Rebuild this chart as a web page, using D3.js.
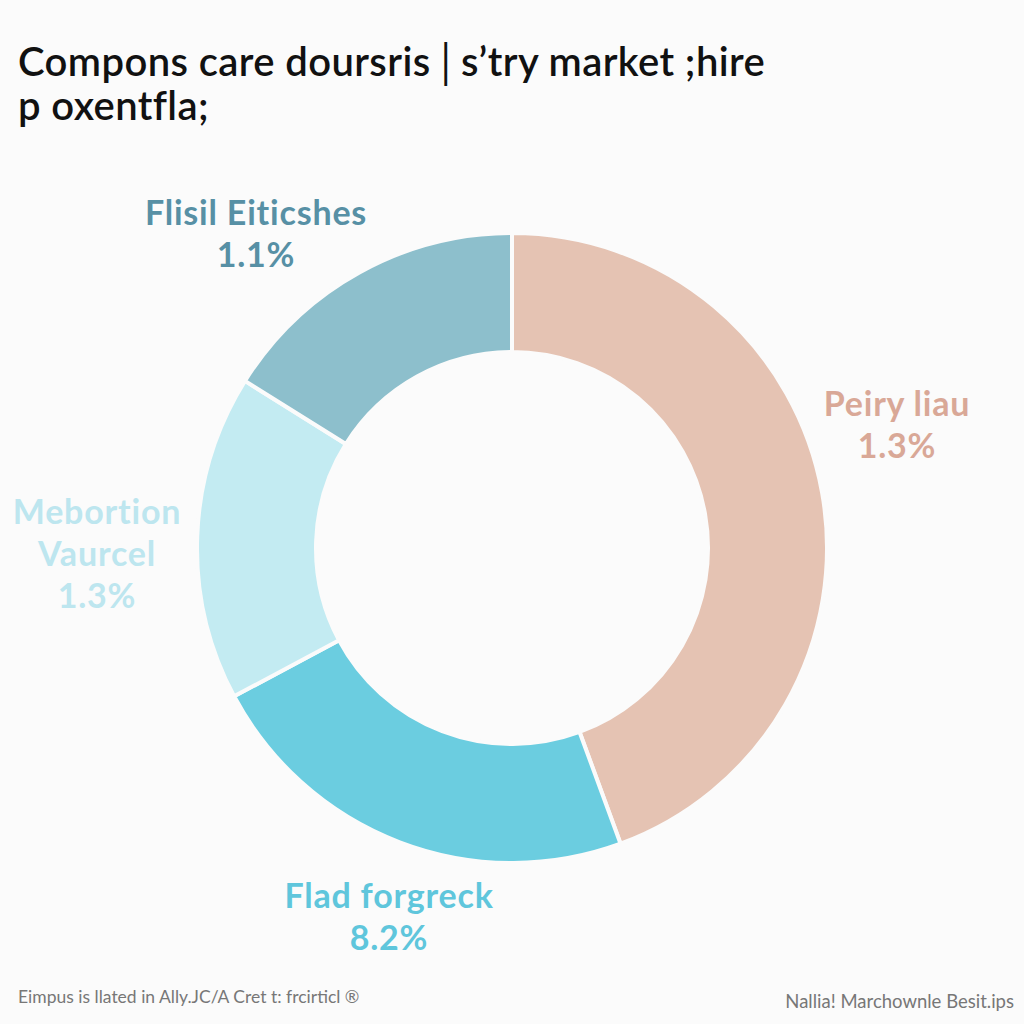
<!DOCTYPE html>
<html>
<head>
<meta charset="utf-8">
<script src="https://cdn.jsdelivr.net/npm/d3@7"></script>
<style>
  html, body { margin: 0; padding: 0; background: #fbfbfb; }
  svg { display: block; }
</style>
</head>
<body>
<svg id="chart" width="1024" height="1024"></svg>
<script>
// ---- data ----
const categories = ["Peiry liau", "Flad forgreck", "Mebortion Vaurcel", "Flisil Eiticshes"];
const sliceShares = [44.4, 22.8, 16.7, 16.1];          // estimated slice sizes
const labelPercents = ["1.3%", "8.2%", "1.3%", "1.1%"]; // printed labels
const sliceColors = ["#e5c3b3", "#6bcde0", "#c3ebf2", "#8dbfcc"];
const labelColors = ["#d9a897", "#5fc6dc", "#bde6ef", "#5790a5"];
const titleLines = ["Compons care doursris\u2502s\u2019try market ;hire", "p oxentfla;"];
const footerLeft = "Eimpus is llated in Ally.JC/A Cret t: frcirticl \u00ae";
const footerRight = "Nallia! Marchownle Besit.ips";

// ---- layout ----
const svg = d3.select("#chart");
const cx = 512, cy = 548, rOuter = 315, rInner = 196;

svg.append("rect").attr("width", 1024).attr("height", 1024).attr("fill", "#fbfbfb");

// title
const title = svg.append("text")
  .attr("font-family", "Lato, 'Open Sans', sans-serif")
  .attr("font-weight", 600)
  .attr("font-size", 40)
  .attr("letter-spacing", 0.4)
  .attr("fill", "#111");
titleLines.forEach((t, i) => {
  title.append("tspan").attr("x", 18).attr("y", 76 + i * 44).text(t);
});

// donut
const pie = d3.pie().sort(null).value(d => d).startAngle(0).endAngle(2 * Math.PI);
const arc = d3.arc().innerRadius(rInner).outerRadius(rOuter);
const arcs = pie(sliceShares);

const g = svg.append("g").attr("transform", `translate(${cx},${cy})`);
g.selectAll("path")
  .data(arcs)
  .join("path")
  .attr("d", arc)
  .attr("fill", (d, i) => sliceColors[i])
  .attr("stroke", "#fbfbfb")
  .attr("stroke-width", 4)
  .attr("stroke-linejoin", "round");

// labels (positions chosen per slice)
const labelPos = [
  { x: 897, y: 416, lines: ["Peiry liau"] },
  { x: 389, y: 908, lines: ["Flad forgreck"] },
  { x: 97,  y: 524, lines: ["Mebortion", "Vaurcel"] },
  { x: 256, y: 225, lines: ["Flisil Eiticshes"] }
];
labelPos.forEach((p, i) => {
  const t = svg.append("text")
    .attr("text-anchor", "middle")
    .attr("font-family", "Lato, 'Open Sans', sans-serif")
    .attr("font-weight", 700)
    .attr("font-size", 34)
    .attr("letter-spacing", 0.8)
    .attr("fill", labelColors[i]);
  const all = p.lines.concat([labelPercents[i]]);
  all.forEach((l, k) => {
    t.append("tspan").attr("x", p.x).attr("y", p.y + k * 42).text(l);
  });
});

// footers
svg.append("text")
  .attr("x", 18).attr("y", 1003)
  .attr("font-family", "Lato, 'Open Sans', sans-serif")
  .attr("font-size", 17.5)
  .attr("fill", "#777")
  .text(footerLeft);
svg.append("text")
  .attr("x", 1014).attr("y", 1008)
  .attr("text-anchor", "end")
  .attr("font-family", "Lato, 'Open Sans', sans-serif")
  .attr("font-size", 18.5)
  .attr("fill", "#777")
  .text(footerRight);
</script>
</body>
</html>
